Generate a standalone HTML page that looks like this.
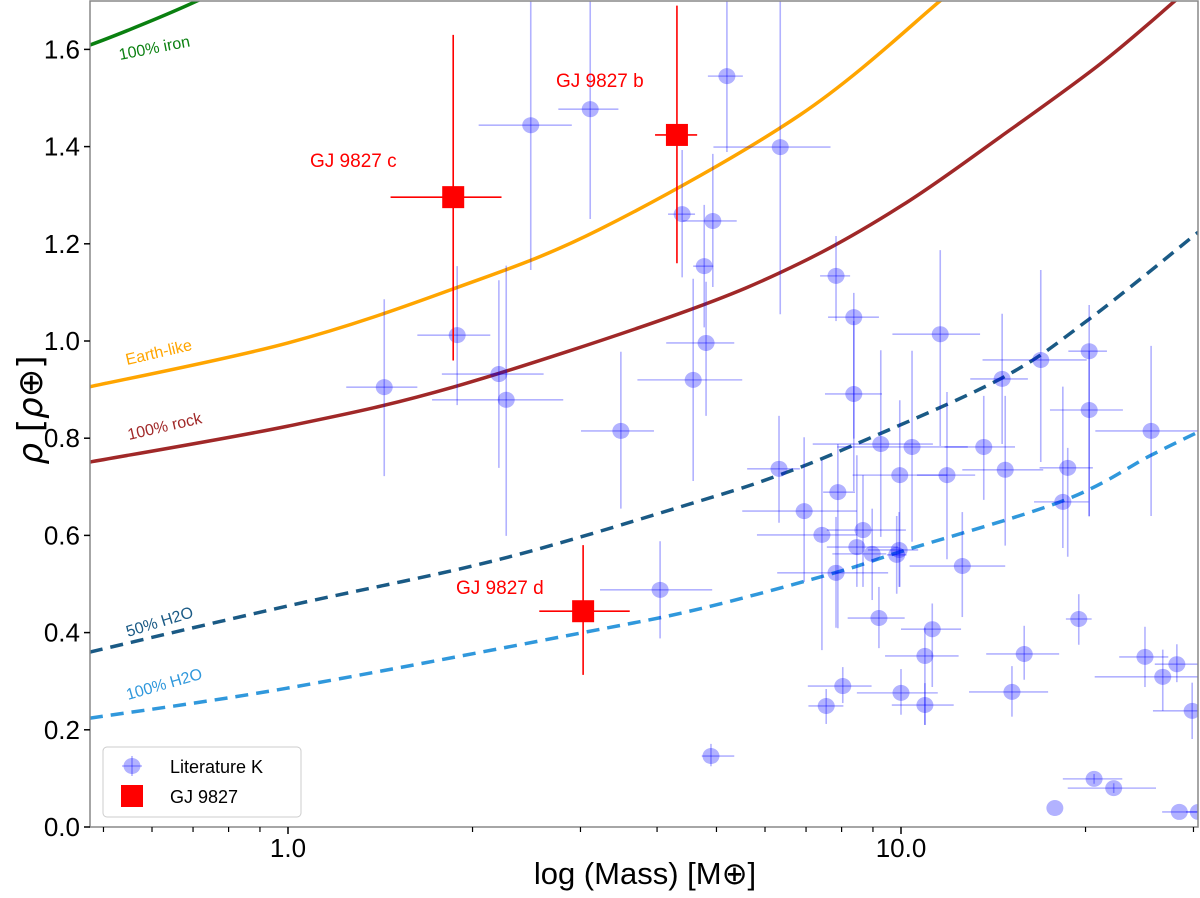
<!DOCTYPE html>
<html><head><meta charset="utf-8"><style>
html,body{margin:0;padding:0;background:#fff;}
svg{display:block;font-family:"Liberation Sans","DejaVu Sans",sans-serif;}
</style></head><body>
<svg id="chart" width="1200" height="898" viewBox="0 0 1200 898" xmlns="http://www.w3.org/2000/svg">
<defs><clipPath id="clip"><rect x="90" y="1" width="1108" height="826"/></clipPath></defs>
<rect x="0" y="0" width="1200" height="898" fill="#fff"/>
<g id="curves" clip-path="url(#clip)"></g>
<g id="points" clip-path="url(#clip)"></g>
<g id="axes"></g>
</svg>
<script>
// ---- data (log10 mass, density) ----
const litLogM = [0.396,0.493,0.716,0.803,0.643,0.693,0.679,0.682,0.661,0.543,0.276,0.157,0.344,0.356,0.801,0.894,0.923,0.923,1.064,1.228,1.307,1.307,1.165,1.408,0.842,0.897,0.871,0.967,1.018,0.998,1.075,1.135,1.170,1.272,1.264,0.938,0.928,0.953,0.997,0.993,1.100,0.894,0.964,1.051,1.039,0.905,0.878,1.000,1.039,1.201,1.181,1.290,1.398,1.450,1.427,1.475,0.690,1.315,1.347,1.251,1.454,1.485,0.607];
const litMLo  = [0.085,0.052,0.031,0.109,0.023,0.049,0.018,0.065,0.091,0.065,0.065,0.062,0.093,0.121,0.052,0.026,0.042,0.047,0.078,0.095,0.034,0.064,0.052,0.091,0.101,0.024,0.106,0.111,0.122,0.077,0.049,0.064,0.070,0.046,0.047,0.059,0.049,0.065,0.051,0.016,0.086,0.096,0.051,0.051,0.065,0.057,0.029,0.072,0.054,0.062,0.070,0.021,0.042,0.036,0.111,0.064,0.015,0.051,0.075,0,0.028,0.020,0.098];
const litMHi  = [0.067,0.046,0.026,0.082,0.021,0.039,0.015,0.046,0.080,0.054,0.054,0.054,0.073,0.093,0.034,0.023,0.041,0.046,0.065,0.075,0.029,0.055,0.042,0.080,0.086,0.028,0.057,0.085,0.091,0.077,0.046,0.051,0.062,0.041,0.042,0.070,0.067,0.023,0.031,0.016,0.070,0.085,0.042,0.047,0.055,0.047,0.028,0.060,0.047,0.057,0.059,0.021,0.038,0.038,0.060,0.016,0.038,0.046,0.069,0,0.034,0.020,0.085];
const litRho  = [1.444,1.477,1.545,1.399,1.261,1.247,1.154,0.996,0.920,0.815,1.012,0.905,0.932,0.879,0.737,1.134,1.049,0.891,1.014,0.961,0.979,0.858,0.922,0.815,0.650,0.689,0.601,0.788,0.782,0.724,0.724,0.782,0.735,0.739,0.669,0.611,0.576,0.562,0.570,0.560,0.537,0.523,0.430,0.407,0.352,0.290,0.249,0.276,0.251,0.356,0.278,0.428,0.350,0.335,0.309,0.239,0.146,0.099,0.080,0.039,0.031,0.031,0.488];
const litRLo  = [0.298,0.226,0.156,0.344,0.130,0.136,0.126,0.150,0.208,0.160,0.144,0.183,0.193,0.280,0.111,0.093,0.250,0.200,0.230,0.210,0.340,0.218,0.134,0.175,0.146,0.280,0.237,0.191,0.195,0.230,0.173,0.109,0.156,0.183,0.095,0.117,0.082,0.095,0.076,0.080,0.105,0.113,0.062,0.119,0.142,0.035,0.037,0.045,0.041,0.053,0.051,0.053,0.062,0.037,0.070,0.058,0.021,0.010,0.010,0,0,0,0.100];
const litRHi  = [0.400,0.400,0.300,0.400,0.132,0.138,0.126,0.126,0.208,0.163,0.142,0.181,0.193,0.276,0.109,0.082,0.050,0.150,0.173,0.185,0.095,0.121,0.134,0.175,0.152,0.099,0.154,0.193,0.198,0.154,0.171,0.105,0.152,0.041,0.237,0.113,0.189,0.093,0.078,0.080,0.111,0.115,0.064,0.053,0.058,0.039,0.035,0.049,0.045,0.058,0.053,0.051,0.062,0.041,0.056,0.058,0.025,0.010,0.010,0,0,0,0.100];

const gjNames = ["GJ 9827 c","GJ 9827 b","GJ 9827 d"];
const gjMass  = [1.86,4.31,3.03];
const gjMLo   = [1.47,3.97,2.57];
const gjMHi   = [2.23,4.65,3.61];
const gjRho   = [1.296,1.424,0.444];
const gjRLo   = [0.96,1.16,0.313];
const gjRHi   = [1.63,1.69,0.58];

const ironLogM  = [-0.40,-0.323,-0.148,-0.05];
const ironRho   = [1.585,1.609,1.70,1.77];
const earthLogM = [-0.323,0,0.269,0.509,0.835,1.064,1.12];
const earthRho  = [0.906,0.996,1.107,1.23,1.465,1.70,1.765];
const rockLogM  = [-0.323,0,0.269,0.635,0.835,1.003,1.162,1.325,1.447,1.5];
const rockRho   = [0.751,0.825,0.905,1.055,1.16,1.28,1.42,1.57,1.70,1.76];
const h50LogM   = [-0.323,0,0.346,0.672,0.801,0.923,1.165,1.307,1.485];
const h50Rho    = [0.36,0.455,0.551,0.671,0.724,0.786,0.924,1.045,1.224];
const h100LogM  = [-0.323,0,0.481,0.672,0.892,0.998,1.264,1.408,1.485];
const h100Rho   = [0.224,0.286,0.40,0.449,0.523,0.566,0.671,0.765,0.813];

const yTicks = [0.0,0.2,0.4,0.6,0.8,1.0,1.2,1.4,1.6];
const yTickLabels = ["0.0","0.2","0.4","0.6","0.8","1.0","1.2","1.4","1.6"];
const xMajor = [1,10];
const xMajorLabels = ["1.0","10.0"];
const xMinor = [0.5,0.6,0.7,0.8,0.9,2,3,4,5,6,7,8,9,20,30];

// ---- axis functions ----
const X0=288, DEC=613, Y0=827, YU=486;
function xL(lm){return X0+lm*DEC;}
function xM(m){return xL(Math.log10(m));}
function yR(r){return Y0-r*YU;}

const NS="http://www.w3.org/2000/svg";
function mk(tag,attrs,parent){const e=document.createElementNS(NS,tag);for(const k in attrs)e.setAttribute(k,attrs[k]);parent.appendChild(e);return e;}

const curves=document.getElementById('curves');
function curve(lx,ry,color,dash,name){
  const P=lx.map((v,i)=>[xL(v),yR(ry[i])]);
  let d='M'+P[0][0].toFixed(1)+','+P[0][1].toFixed(1);
  for(let i=0;i<P.length-1;i++){
    const p0=P[Math.max(0,i-1)],p1=P[i],p2=P[i+1],p3=P[Math.min(P.length-1,i+2)];
    const c1=[p1[0]+(p2[0]-p0[0])/6,p1[1]+(p2[1]-p0[1])/6];
    const c2=[p2[0]-(p3[0]-p1[0])/6,p2[1]-(p3[1]-p1[1])/6];
    d+='C'+c1[0].toFixed(1)+','+c1[1].toFixed(1)+' '+c2[0].toFixed(1)+','+c2[1].toFixed(1)+' '+p2[0].toFixed(1)+','+p2[1].toFixed(1);
  }
  const p=mk('path',{d:d,fill:'none',stroke:color,'stroke-width':3.5},curves);
  if(dash)p.setAttribute('stroke-dasharray',dash);
  
  
}
curve(ironLogM,ironRho,'#0a8010',null,'iron-curve');
curve(earthLogM,earthRho,'#ffa500',null,'earth-like-curve');
curve(rockLogM,rockRho,'#a02828',null,'rock-curve');
curve(h50LogM,h50Rho,'#1a5a85','13,8','h2o-50-curve');
curve(h100LogM,h100Rho,'#3098dc','13,8','h2o-100-curve');

const pts=document.getElementById('points');
for(let i=0;i<litLogM.length;i++){
  const g=mk('g',{},pts);
  
  
  const cx=xL(litLogM[i]), cy=yR(litRho[i]);
  mk('line',{x1:xL(litLogM[i]-litMLo[i]),x2:xL(litLogM[i]+litMHi[i]),y1:cy,y2:cy,stroke:'rgba(0,0,255,0.3)','stroke-width':1.6},g);
  mk('line',{x1:cx,x2:cx,y1:yR(litRho[i]-litRLo[i]),y2:yR(litRho[i]+litRHi[i]),stroke:'rgba(0,0,255,0.3)','stroke-width':1.6},g);
  mk('ellipse',{cx:cx,cy:cy,rx:8.5,ry:8,fill:'rgba(0,0,255,0.3)'},g);
}
for(let i=0;i<gjMass.length;i++){
  const g=mk('g',{},pts);
  
  
  const cx=xM(gjMass[i]), cy=yR(gjRho[i]);
  mk('line',{x1:xM(gjMLo[i]),x2:xM(gjMHi[i]),y1:cy,y2:cy,stroke:'#ff0000','stroke-width':1.6},g);
  mk('line',{x1:cx,x2:cx,y1:yR(gjRLo[i]),y2:yR(gjRHi[i]),stroke:'#ff0000','stroke-width':1.6},g);
  mk('rect',{x:cx-11,y:cy-11,width:22,height:22,fill:'#ff0000'},g);
}

// ---- axes ----
const ax=document.getElementById('axes');
const fr=mk('rect',{x:90,y:1,width:1108,height:826,fill:'none',stroke:'#888','stroke-width':1.5},ax);


for(let i=0;i<yTicks.length;i++){
  const y=yR(yTicks[i]);
  mk('line',{x1:84,x2:90,y1:y,y2:y,stroke:'#000','stroke-width':1.5},ax);
  const t=mk('text',{x:80,y:y+9,'text-anchor':'end','font-size':26,fill:'#000'},ax);
  t.textContent=yTickLabels[i];
  
  
}
for(let i=0;i<xMajor.length;i++){
  const x=xM(xMajor[i]);
  mk('line',{x1:x,x2:x,y1:827,y2:834,stroke:'#000','stroke-width':1.5},ax);
  const t=mk('text',{x:x,y:857,'text-anchor':'middle','font-size':26,fill:'#000'},ax);
  t.textContent=xMajorLabels[i];
  
  
}
for(const m of xMinor){const x=xM(m);if(x<90||x>1198)continue;mk('line',{x1:x,x2:x,y1:827,y2:832,stroke:'#000','stroke-width':1.2},ax);}
</script>
<svg style="position:absolute;left:0;top:0" width="1200" height="898" xmlns="http://www.w3.org/2000/svg">
<text x="645" y="884" text-anchor="middle" font-size="31" fill="#000" font-family="Liberation Sans, DejaVu Sans, sans-serif">log (Mass) [M⊕]</text>
<text transform="translate(42,410) rotate(-90)" text-anchor="middle" font-size="34" fill="#000" font-family="DejaVu Sans, sans-serif"><tspan font-style="italic">ρ</tspan> [<tspan font-style="italic">ρ</tspan>⊕]</text>
<g font-family="Liberation Sans, DejaVu Sans, sans-serif" font-size="16">
<text transform="translate(120,60) rotate(-11)" fill="#0a8010">100% iron</text>
<text transform="translate(127,365) rotate(-13)" fill="#ffa500">Earth-like</text>
<text transform="translate(129,440) rotate(-13)" fill="#a02828">100% rock</text>
<text transform="translate(128,637) rotate(-17)" fill="#1a5a85">50% H2O</text>
<text transform="translate(128,700) rotate(-16)" fill="#3098dc">100% H2O</text>
</g>
<g font-family="Liberation Sans, DejaVu Sans, sans-serif" font-size="19" fill="#ff0000">
<text x="310" y="167">GJ 9827 c</text>
<text x="556" y="87">GJ 9827 b</text>
<text x="456" y="594">GJ 9827 d</text>
</g>
<g>
<rect x="103" y="747" width="198" height="70" rx="4" fill="#fff" fill-opacity="0.85" stroke="#ccc" stroke-width="1"/>
<g>
<line x1="122" x2="142" y1="766" y2="766" stroke="rgba(0,0,255,0.3)" stroke-width="1.6"/>
<line x1="132" x2="132" y1="756" y2="776" stroke="rgba(0,0,255,0.3)" stroke-width="1.6"/>
<ellipse cx="132" cy="766" rx="8.5" ry="8" fill="rgba(0,0,255,0.3)"/>
<text x="170" y="773" font-size="18" fill="#000" font-family="Liberation Sans, DejaVu Sans, sans-serif">Literature K</text>
</g>
<g>
<rect x="121" y="785" width="22" height="22" fill="#ff0000"/>
<text x="170" y="803" font-size="18" fill="#000" font-family="Liberation Sans, DejaVu Sans, sans-serif">GJ 9827</text>
</g>
</g>
</svg>
</body></html>
